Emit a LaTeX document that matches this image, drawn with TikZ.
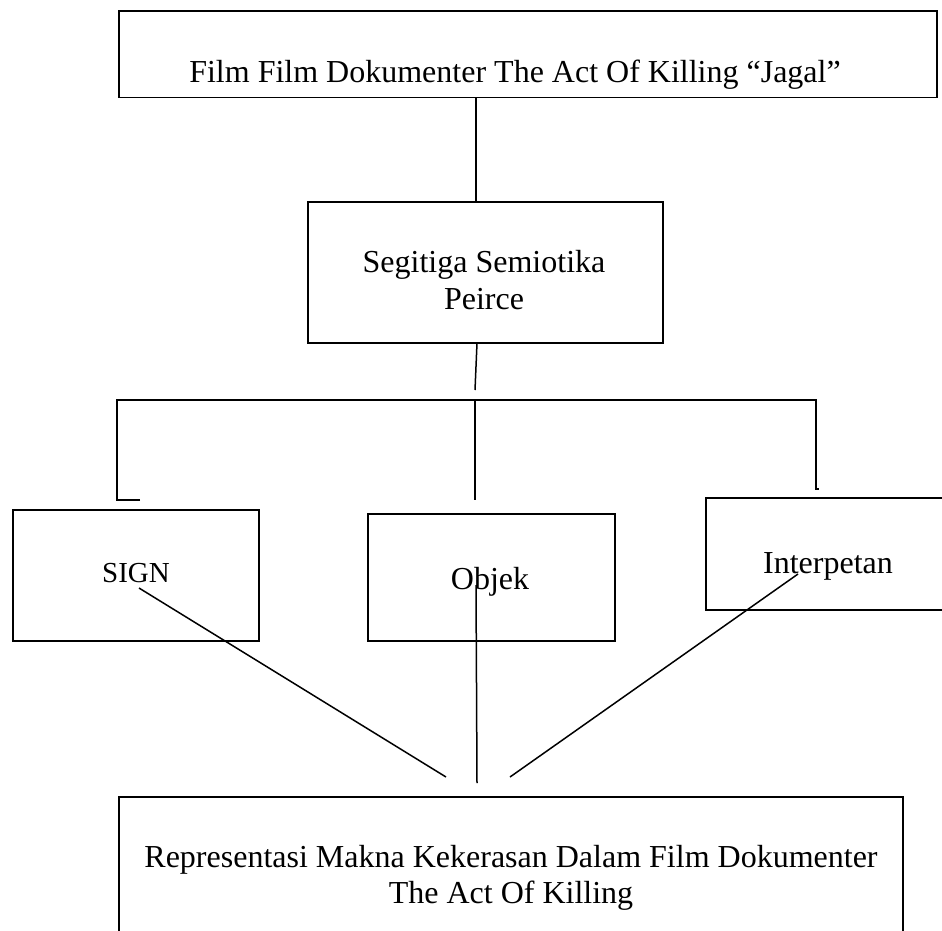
\documentclass[tikz,border=0pt]{standalone}
\usepackage{fontspec}
\setmainfont{Liberation Serif}
\begin{document}
\begin{tikzpicture}[x=1pt,y=-1pt,
  box/.style={draw, line width=1.5pt, inner sep=0pt, outer sep=0pt, anchor=north west},
  lbl/.style={anchor=base, inner sep=0pt, font=\fontsize{32}{37}\selectfont},
  conn/.style={line width=1.5pt}]
\useasboundingbox (0,0) rectangle (942,930);
\clip (0,0) rectangle (942,930);
% boxes
\node[box, minimum width=818pt, minimum height=86.7pt] (top) at (119,11) {};
\node[box, minimum width=355pt, minimum height=141pt] (seg) at (308,202) {};
\node[box, minimum width=246pt, minimum height=131pt] (sign) at (13,510) {};
\node[box, minimum width=247pt, minimum height=127pt] (objek) at (368,514) {};
\node[box, minimum width=250pt, minimum height=112pt] (interp) at (706,498) {};
\node[box, minimum width=784pt, minimum height=150pt] (repr) at (119,797) {};
% texts
\node[lbl] (ttop) at (515,82) {Film Film Dokumenter The Act Of Killing “Jagal”};
\node[lbl] (tseg1) at (484,272) {Segitiga Semiotika};
\node[lbl] (tseg2) at (484,309) {Peirce};
\node[lbl, font=\fontsize{29}{34}\selectfont] (tsign) at (136,582) {SIGN};
\node[lbl] (tobjek) at (490,589) {Objek};
\node[lbl] (tinterp) at (828,573) {Interpetan};
\node[lbl] (trep1) at (511,867) {Representasi Makna Kekerasan Dalam Film Dokumenter};
\node[lbl] (trep2) at (511,903) {The Act Of Killing};
% connector coordinates
\coordinate (a1) at (476,97.7);
\coordinate (a2) at (476,202);
\coordinate (b1) at (477,343);
\coordinate (b2) at (475,390);
\coordinate (lt) at (140,500);
\coordinate (lb) at (117,500);
\coordinate (lc) at (117,400);
\coordinate (mc) at (475,400);
\coordinate (mb) at (475,500);
\coordinate (rc) at (816,400);
\coordinate (rb) at (816,489);
\coordinate (rt) at (819,489);
\coordinate (s1) at (139,588);
\coordinate (s2) at (446,777);
\coordinate (o1) at (476,585);
\coordinate (o2) at (477,783);
\coordinate (i1) at (798,574);
\coordinate (i2) at (510,777);
% connectors
\draw[conn] (a1) -- (a2);
\draw[conn] (b1) -- (b2);
\draw[conn] (lt) -- (lb) -- (lc) -- (rc) -- (rb) -- (rt);
\draw[conn] (mc) -- (mb);
\draw[conn] (s1) -- (s2);
\draw[conn] (o1) -- (o2);
\draw[conn] (i1) -- (i2);
\end{tikzpicture}
\end{document}
